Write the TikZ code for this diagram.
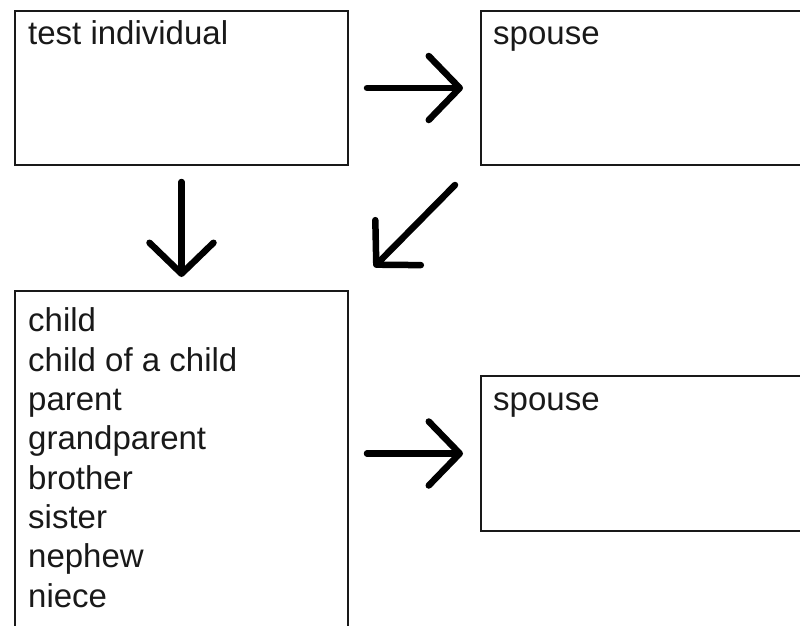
\documentclass[tikz,border=0pt]{standalone}
\usepackage{fontspec}
\setmainfont{Liberation Sans}
\usetikzlibrary{arrows.meta}
\begin{document}
\begin{tikzpicture}[x=1pt,y=-1pt,
  box/.style={draw=black!90, line width=2pt, rectangle, inner sep=0pt, anchor=north west},
  lbl/.style={inner sep=0pt, anchor=base west, font=\fontsize{33}{39.3}\selectfont, align=left, text=black!90},
  arr/.style={line width=6.5pt, line cap=round, -{Straight Barb[length=31pt, width=64pt, line cap=round, line join=round]}}]
\useasboundingbox (0,0) rectangle (800,626);
\node[box, minimum width=333pt, minimum height=154pt] (tl) at (14,10) {};
\node[box, minimum width=340pt, minimum height=154pt] (sp1) at (480,10) {};
\node[box, minimum width=333pt, minimum height=380pt] (kin) at (14,290) {};
\node[box, minimum width=340pt, minimum height=155pt] (sp2) at (480,375) {};
\node[lbl] (t1) at (28,45) {test individual};
\node[lbl] (t2) at (493,45) {spouse};
\node[lbl] (t3) at (28,607) {child\\child of a child\\parent\\grandparent\\brother\\sister\\nephew\\niece};
\node[lbl] (t4) at (493,410) {spouse};
\draw[arr, shorten <=18pt, shorten >=17pt] (tl.east) -- (sp1.west);
\draw[arr, shorten <=16pt, shorten >=13pt] (tl.south) -- (tl.south |- kin.north);
\draw[arr] ([shift={(-25,19)}]sp1.south west) -- ([shift={(25,-23)}]kin.north east);
\draw[arr, shorten <=18pt, shorten >=17pt] (kin.east |- sp2.west) -- (sp2.west);
\end{tikzpicture}
\end{document}
